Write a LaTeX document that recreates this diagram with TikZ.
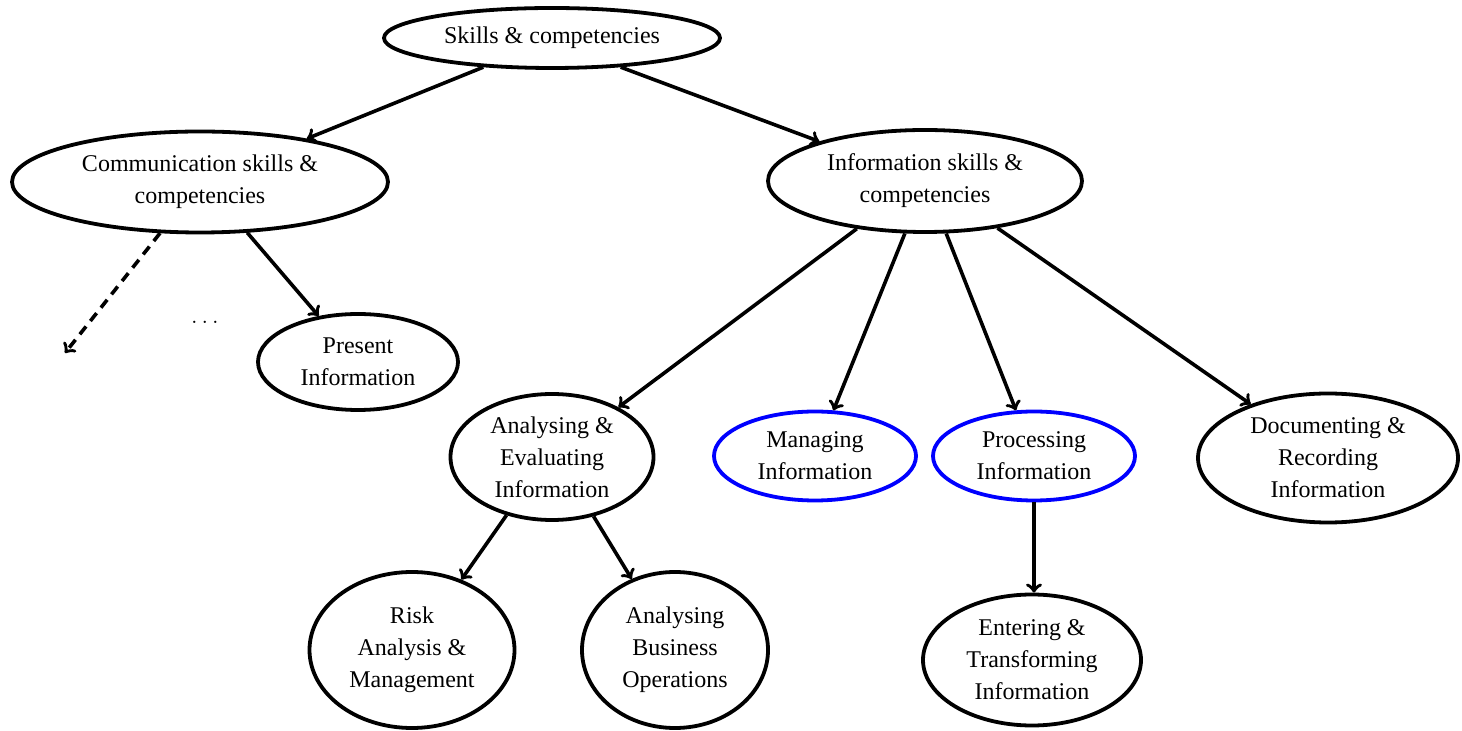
\documentclass[tikz,border=0pt]{standalone}
\usepackage{fontspec}
\setmainfont{Liberation Serif}
\usetikzlibrary{shapes.geometric}

\begin{document}
\begin{tikzpicture}[x=0.5pt,y=-0.5pt,
  skill/.style={draw,ellipse,line width=1.9pt,inner sep=0pt,align=center,font=\fontsize{12}{16}\selectfont},
  focus/.style={skill,draw=blue},
  link/.style={->,line width=1.8pt}]
  \useasboundingbox (0,0) rectangle (1462,731);
  \node[skill,minimum width=168pt,minimum height=30pt] (top) at (552,38) {Skills \& competencies};
  \node[skill,minimum width=188pt,minimum height=50.5pt] (comm) at (200,182) {Communication skills \&\\competencies};
  \node[skill,minimum width=157pt,minimum height=51pt] (info) at (925,181) {Information skills \&\\competencies};
  \node[skill,minimum width=100pt,minimum height=48pt] (present) at (358,362) {Present\\Information};
  \node[skill,minimum width=101.5pt,minimum height=63pt] (analyse) at (552,457) {Analysing \&\\Evaluating\\Information};
  \node[focus,minimum width=101pt,minimum height=44.5pt] (manage) at (815,456) {Managing\\Information};
  \node[focus,minimum width=101pt,minimum height=44.5pt] (process) at (1034,456) {Processing\\Information};
  \node[skill,minimum width=130pt,minimum height=64.5pt] (document) at (1328,458) {Documenting \&\\Recording\\Information};
  \node[skill,minimum width=102.5pt,minimum height=78pt] (risk) at (412,650) {Risk\\Analysis \&\\Management};
  \node[skill,minimum width=93pt,minimum height=78pt] (business) at (675,650) {Analysing\\Business\\Operations};
  \node[skill,minimum width=109pt,minimum height=65.5pt] (enter) at (1032,660) {Entering \&\\Transforming\\Information};
  \node[font=\fontsize{12}{16}\selectfont] (more) at (205,322) {$\dots$};
  \coordinate (other) at (65,353);

  \draw[link] (top.203) -- (comm);
  \draw[link] (top.337) -- (info);
  \draw[link] (comm.313) -- (present);
  \draw[link,dash pattern=on 5pt off 3.5pt] (comm.232) -- (other);
  \draw[link] (info.215) -- (analyse);
  \draw[link] (info.249) -- (manage);
  \draw[link] (info.292) -- (process);
  \draw[link] (info.327) -- (document);
  \draw[link] (analyse.232) -- (risk);
  \draw[link] (analyse.305) -- (business);
  \draw[link] (process.south) -- (process.south |- enter.north);
\end{tikzpicture}
\end{document}
